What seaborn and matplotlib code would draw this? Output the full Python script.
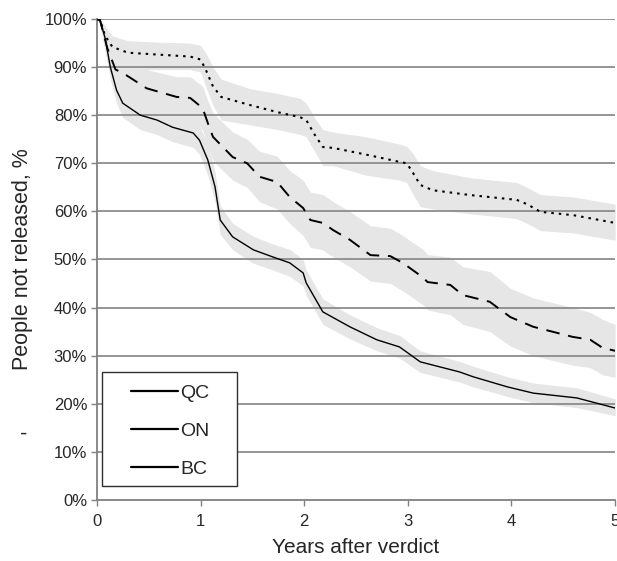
import matplotlib
matplotlib.use("Agg")
import matplotlib.pyplot as plt
import seaborn as sns
from matplotlib.lines import Line2D
from matplotlib.patches import Rectangle

# years after verdict / % not released
dot_t = [0, 0.03, 0.08, 0.15, 0.3, 0.6, 0.9, 1.0, 1.05, 1.12, 1.2, 1.48, 1.75, 1.96, 2.02, 2.1, 2.18, 2.28, 2.6, 2.92, 2.99, 3.05, 3.12, 3.24, 3.6, 4.05, 4.15, 4.28, 4.6, 5.0]
dot_v = [100, 99.8, 96.5, 94.2, 93.0, 92.6, 92.2, 91.6, 89.5, 86.0, 83.8, 82.1, 80.6, 79.6, 79.0, 76.0, 73.4, 73.2, 71.8, 70.3, 70.0, 68.0, 65.5, 64.4, 63.4, 62.4, 61.5, 59.9, 59.2, 57.6]
dot_lo = [100, 99, 93.5, 91, 89.5, 89.5, 89.5, 89, 86, 82, 79, 78, 77, 76, 75.5, 72.5, 69.5, 69.5, 67.5, 66.5, 66, 63.5, 61, 60.5, 59.5, 58.5, 57.5, 56, 55.5, 54]
dot_hi = [100, 100, 98.5, 96.5, 95.5, 95.2, 95, 94.5, 93, 90, 87.5, 85.5, 84.5, 83.5, 82.5, 79.5, 77, 76.5, 75.5, 74, 73.5, 72, 69.5, 68.5, 67, 66, 65, 63.5, 63, 61.5]

dash_t = [0, 0.03, 0.1, 0.18, 0.25, 0.48, 0.77, 0.9, 1.02, 1.07, 1.12, 1.31, 1.45, 1.57, 1.74, 1.86, 1.99, 2.06, 2.18, 2.28, 2.44, 2.64, 2.83, 2.95, 3.15, 3.19, 3.41, 3.53, 3.79, 3.99, 4.21, 4.59, 4.76, 4.88, 5.0]
dash_v = [100, 99.8, 94, 89.5, 88.8, 85.6, 83.8, 83.6, 81.5, 78.4, 75.5, 71.3, 70.0, 67.2, 66.1, 63.0, 60.7, 58.2, 57.6, 56.1, 54.1, 50.9, 50.7, 49.3, 46.2, 45.3, 44.7, 42.6, 41.2, 38.0, 36.0, 33.9, 33.3, 31.6, 31.0]
dash_lo = [100, 99, 91, 86.5, 85.5, 81.5, 79.5, 79, 77, 73.5, 70.5, 66.5, 65, 62, 60.5, 57.5, 55, 52.5, 52, 50.5, 48.5, 45.5, 45, 43.5, 40.5, 39.5, 38.5, 36.5, 35, 32, 30, 28, 27.5, 26, 25.5]
dash_hi = [100, 100, 96.5, 92.5, 92, 89.5, 88, 88, 86, 83, 80.5, 76.5, 75, 72.5, 71.5, 68.5, 66.5, 64, 63.5, 62, 60, 57, 56.5, 55, 52, 51, 50.5, 48.5, 47.5, 44, 42, 40, 39, 37.5, 36.5]

sol_t = [0, 0.03, 0.08, 0.13, 0.19, 0.25, 0.42, 0.58, 0.73, 0.93, 0.99, 1.07, 1.14, 1.19, 1.31, 1.51, 1.7, 1.86, 1.99, 2.02, 2.18, 2.44, 2.7, 2.92, 3.12, 3.5, 3.63, 3.96, 4.21, 4.63, 5.0]
sol_v = [100, 99.8, 96, 90, 85.2, 82.5, 80, 79, 77.5, 76.3, 74.8, 70.7, 65.1, 58.2, 54.7, 52.0, 50.5, 49.3, 47.2, 45.1, 39.1, 36.0, 33.3, 31.8, 28.7, 26.6, 25.6, 23.5, 22.2, 21.2, 19.1]
sol_lo = [100, 99, 93.5, 87.5, 82.5, 79.5, 77, 76, 74.5, 73.3, 71.8, 67.5, 62, 55.2, 52, 49.2, 47.8, 46.5, 44.5, 42.5, 36.5, 33.5, 31, 29.5, 26.5, 24.5, 23.5, 21.5, 20.2, 19.2, 17.5]
sol_hi = [100, 100, 98.5, 92.5, 88, 85.5, 83, 82, 80.5, 79.3, 77.8, 74, 68.2, 61.2, 57.5, 54.8, 53.2, 52.1, 50, 47.8, 41.8, 38.5, 35.8, 34.2, 31, 28.8, 27.8, 25.6, 24.3, 23.3, 21]

legend_labels = ["QC", "ON", "BC"]

sns.set_style("white")
plt.rcParams["font.family"] = ["Liberation Sans", "DejaVu Sans"]

fig = plt.figure(figsize=(6.17, 5.61), dpi=100)
ax = fig.add_axes([0.157, 0.109, 0.840, 0.857])

band = "#e6e6e6"
ax.fill_between(dot_t, dot_lo, dot_hi, color=band, lw=0, zorder=1)
ax.fill_between(dash_t, dash_lo, dash_hi, color=band, lw=0, zorder=1)
ax.fill_between(sol_t, sol_lo, sol_hi, color=band, lw=0, zorder=1)

for y in range(10, 101, 10):
    ax.axhline(y, color="#8c8c8c", lw=1.3, zorder=2)

sns.lineplot(x=dot_t, y=dot_v, ax=ax, color="black", lw=1.5, sort=False, estimator=None, zorder=3)
ax.lines[-1].set_linestyle((0, (1.2, 2.4)))
sns.lineplot(x=dash_t, y=dash_v, ax=ax, color="black", lw=1.4, sort=False, estimator=None, zorder=3)
ax.lines[-1].set_linestyle((0, (7, 4.5)))
sns.lineplot(x=sol_t, y=sol_v, ax=ax, color="black", lw=1.0, sort=False, estimator=None, zorder=3)

ax.set_xlim(0, 5)
ax.set_ylim(0, 100)
ax.set_xticks(range(0, 6))
ax.set_yticks(range(0, 101, 10))
ax.set_yticklabels([f"{v}%" for v in range(0, 101, 10)])
for s in ["top", "right"]:
    ax.spines[s].set_visible(False)
for s in ["left", "bottom"]:
    ax.spines[s].set_color("#808080")
    ax.spines[s].set_linewidth(1.3)
ax.tick_params(axis="both", direction="out", length=4, width=1, color="#808080",
               labelsize=12, bottom=True, left=True)
ax.tick_params(axis="x", pad=6)
ax.tick_params(axis="y", pad=3)
ax.set_xlabel("Years after verdict", fontsize=15, labelpad=7)
ax.set_ylabel("People not released, %", fontsize=15.5, labelpad=8)
ax.set_facecolor("white")

# legend box (white, dark edge) with the entries inside it
ax.add_patch(Rectangle((0.0097, 0.029), 0.2606, 0.237, transform=ax.transAxes,
                       facecolor="white", edgecolor="#303030", lw=1.0, zorder=4))
handles = [Line2D([], [], color="black", lw=1.6) for _ in legend_labels]
leg = ax.legend(handles, legend_labels, loc="lower left", bbox_to_anchor=(0.0656, 0.045),
                frameon=False, fontsize=14, handlelength=2.4, handletextpad=0.15,
                labelspacing=1.05, borderpad=0, borderaxespad=0)
leg.set_zorder(5)

fig.text(24 / 617, 1 - 434 / 561, "-", fontsize=16, ha="center", va="center")

fig.savefig("out.png", dpi=100)
